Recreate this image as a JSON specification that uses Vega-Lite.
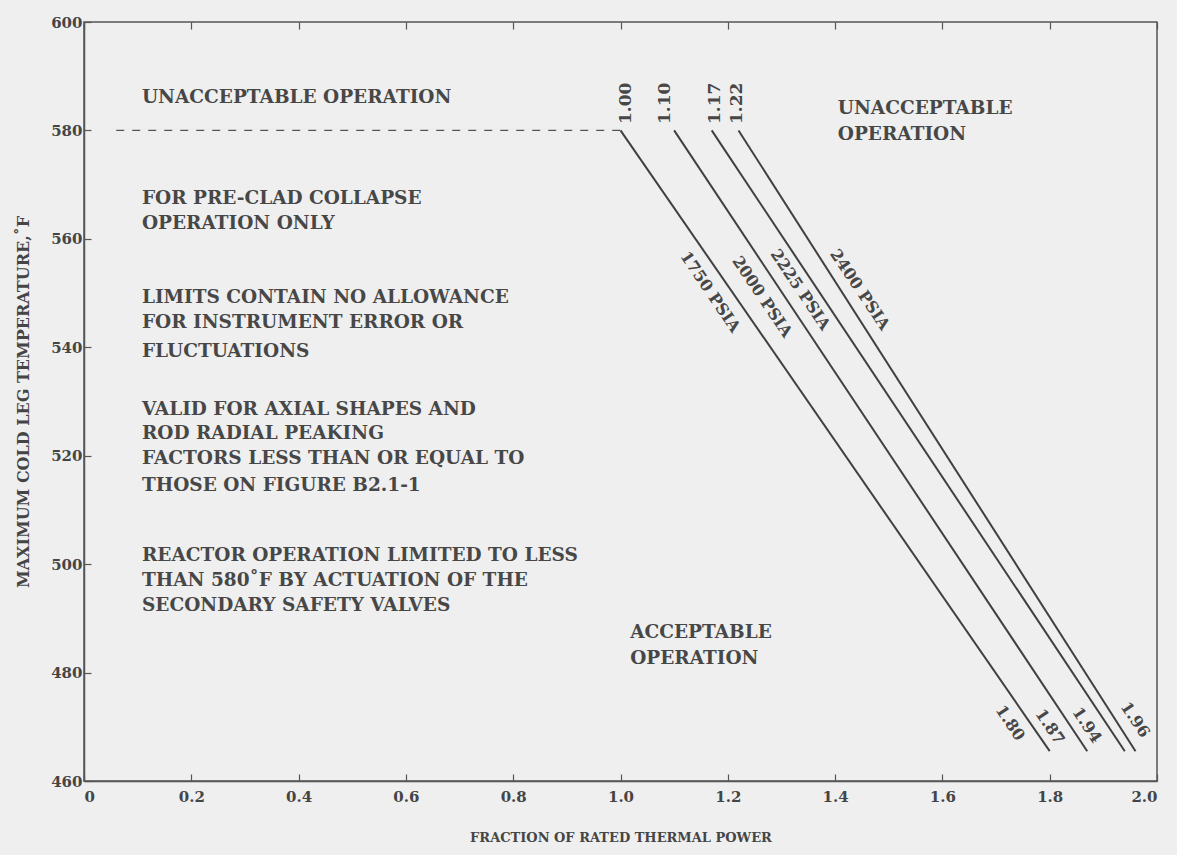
{
  "$schema": "https://vega.github.io/schema/vega-lite/v6.json",
  "width": 1073,
  "height": 759,
  "autosize": "none",
  "padding": {"left": 84, "top": 22, "right": 20, "bottom": 74},
  "background": "#efefef",
  "view": {"stroke": "#555555", "strokeWidth": 1.5},
  "config": {
    "font": "DejaVu Serif",
    "axis": {
      "labelFont": "DejaVu Serif", "titleFont": "DejaVu Serif",
      "labelColor": "#454545", "titleColor": "#454545",
      "labelFontSize": 15, "labelFontWeight": "bold", "titleFontSize": 13, "titleFontWeight": "bold",
      "grid": false, "domainColor": "#555555", "tickColor": "#555555",
      "domainWidth": 1.5, "tickWidth": 1.2
    }
  },
  "datasets": {
    "curves": [
      {"series": "1750 PSIA", "x": 1.00, "y": 580},
      {"series": "1750 PSIA", "x": 1.80, "y": 465.5},
      {"series": "2000 PSIA", "x": 1.10, "y": 580},
      {"series": "2000 PSIA", "x": 1.87, "y": 465.5},
      {"series": "2225 PSIA", "x": 1.17, "y": 580},
      {"series": "2225 PSIA", "x": 1.94, "y": 465.5},
      {"series": "2400 PSIA", "x": 1.22, "y": 580},
      {"series": "2400 PSIA", "x": 1.96, "y": 465.5}
    ],
    "dash": [
      {"x": 0.06, "y": 580},
      {"x": 1.00, "y": 580}
    ],
    "notes": [
      {"x": 0.108, "y": 586.1, "text": "UNACCEPTABLE OPERATION"},
      {"x": 0.108, "y": 567.6, "text": "FOR PRE-CLAD COLLAPSE"},
      {"x": 0.108, "y": 563.0, "text": "OPERATION ONLY"},
      {"x": 0.108, "y": 549.2, "text": "LIMITS CONTAIN NO ALLOWANCE"},
      {"x": 0.108, "y": 544.6, "text": "FOR INSTRUMENT ERROR OR"},
      {"x": 0.108, "y": 539.4, "text": "FLUCTUATIONS"},
      {"x": 0.108, "y": 528.7, "text": "VALID FOR AXIAL  SHAPES AND"},
      {"x": 0.108, "y": 524.1, "text": "ROD RADIAL PEAKING"},
      {"x": 0.108, "y": 519.5, "text": "FACTORS LESS THAN OR EQUAL TO"},
      {"x": 0.108, "y": 514.6, "text": "THOSE ON FIGURE B2.1-1"},
      {"x": 0.108, "y": 501.7, "text": "REACTOR OPERATION LIMITED TO LESS"},
      {"x": 0.108, "y": 497.1, "text": "THAN 580˚F BY ACTUATION OF THE"},
      {"x": 0.108, "y": 492.4, "text": "SECONDARY SAFETY VALVES"},
      {"x": 1.018, "y": 487.5, "text": "ACCEPTABLE"},
      {"x": 1.018, "y": 482.7, "text": "OPERATION"},
      {"x": 1.405, "y": 584.1, "text": "UNACCEPTABLE"},
      {"x": 1.405, "y": 579.4, "text": "OPERATION"}
    ],
    "topLabels": [
      {"x": 1.01, "y": 585.0, "text": "1.00"},
      {"x": 1.083, "y": 585.0, "text": "1.10"},
      {"x": 1.176, "y": 585.0, "text": "1.17"},
      {"x": 1.217, "y": 585.0, "text": "1.22"}
    ],
    "bottomLabels": [
      {"x": 1.726, "y": 470.7, "text": "1.80"},
      {"x": 1.80, "y": 470.0, "text": "1.87"},
      {"x": 1.869, "y": 470.3, "text": "1.94"},
      {"x": 1.959, "y": 471.3, "text": "1.96"}
    ],
    "psiaLabels": [
      {"x": 1.167, "y": 550.2, "text": "1750 PSIA"},
      {"x": 1.264, "y": 549.3, "text": "2000 PSIA"},
      {"x": 1.335, "y": 550.6, "text": "2225 PSIA"},
      {"x": 1.446, "y": 550.6, "text": "2400 PSIA"}
    ]
  },
  "resolve": {"axis": {"x": "independent", "y": "independent"}},
  "layer": [
    {
      "data": {"name": "curves"},
      "mark": {"type": "line", "color": "#404040", "strokeWidth": 2},
      "encoding": {
        "x": {
          "field": "x", "type": "quantitative",
          "scale": {"domain": [0, 2], "nice": false},
          "axis": {
            "orient": "bottom",
            "values": [0, 0.2, 0.4, 0.6, 0.8, 1.0, 1.2, 1.4, 1.6, 1.8, 2.0],
            "labelExpr": "datum.value == 0 ? '0' : format(datum.value, '.1f')",
            "tickSize": -7, "labelPadding": 15,
            "title": "FRACTION OF RATED THERMAL POWER",
            "titlePadding": 27
          }
        },
        "y": {
          "field": "y", "type": "quantitative",
          "scale": {"domain": [460, 600], "nice": false, "zero": false},
          "axis": {
            "orient": "left",
            "values": [460, 480, 500, 520, 540, 560, 580, 600],
            "tickSize": -7, "labelPadding": 9,
            "title": "MAXIMUM COLD LEG TEMPERATURE,˚F",
            "titleFontSize": 16,
            "titlePadding": 19
          }
        },
        "detail": {"field": "series"}
      }
    },
    {
      "data": {"name": "dash"},
      "mark": {"type": "line", "color": "#555555", "strokeWidth": 1.3, "strokeDash": [8, 8]},
      "encoding": {
        "x": {"field": "x", "type": "quantitative",
          "axis": {"orient": "top", "labels": false, "domain": false, "tickSize": -7, "title": null,
            "values": [0, 0.2, 0.4, 0.6, 0.8, 1.0, 1.2, 1.4, 1.6, 1.8, 2.0]}},
        "y": {"field": "y", "type": "quantitative", "axis": null}
      }
    },
    {
      "data": {"name": "notes"},
      "mark": {"type": "text", "align": "left", "baseline": "middle", "fontSize": 18.5, "fontWeight": "bold", "color": "#474747"},
      "encoding": {
        "x": {"field": "x", "type": "quantitative", "axis": null},
        "y": {"field": "y", "type": "quantitative", "axis": null},
        "text": {"field": "text"}
      }
    },
    {
      "data": {"name": "topLabels"},
      "mark": {"type": "text", "align": "center", "baseline": "middle", "angle": 270, "fontSize": 17, "fontWeight": "bold", "color": "#474747"},
      "encoding": {
        "x": {"field": "x", "type": "quantitative", "axis": null},
        "y": {"field": "y", "type": "quantitative", "axis": null},
        "text": {"field": "text"}
      }
    },
    {
      "data": {"name": "bottomLabels"},
      "mark": {"type": "text", "align": "center", "baseline": "middle", "angle": 56, "fontSize": 16, "fontWeight": "bold", "color": "#474747"},
      "encoding": {
        "x": {"field": "x", "type": "quantitative", "axis": null},
        "y": {"field": "y", "type": "quantitative", "axis": null},
        "text": {"field": "text"}
      }
    },
    {
      "data": {"name": "psiaLabels"},
      "mark": {"type": "text", "align": "center", "baseline": "middle", "angle": 56, "fontSize": 16, "fontWeight": "bold", "color": "#474747"},
      "encoding": {
        "x": {"field": "x", "type": "quantitative", "axis": null},
        "y": {"field": "y", "type": "quantitative", "axis": null},
        "text": {"field": "text"}
      }
    }
  ]
}
